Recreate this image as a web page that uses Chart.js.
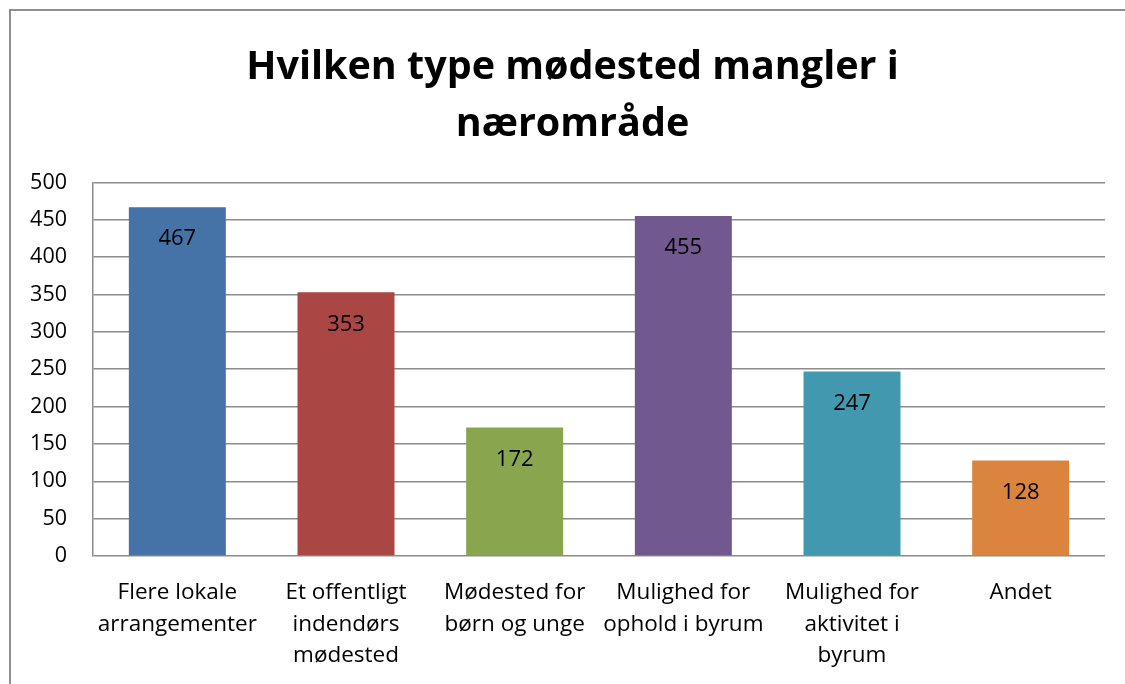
<!DOCTYPE html>
<html>
<head>
<meta charset="utf-8">
<script src="https://cdn.jsdelivr.net/npm/chart.js@4/dist/chart.umd.min.js"></script>
<style>
  html, body { margin: 0; padding: 0; background: #fff; }
  #frame { position: absolute; left: 9px; top: 9px; width: 1200px; height: 800px; border: 2px solid #8f8f8f; box-sizing: border-box; }
  #wrap { position: absolute; left: 0; top: 0; width: 1125px; height: 684px; }
</style>
</head>
<body>
<div id="frame"></div>
<div id="wrap"><canvas id="c" width="1125" height="684"></canvas></div>
<script>
const titleLines = ["Hvilken type mødested mangler i", "nærområde"];
const categories = [
  ["Flere lokale", "arrangementer"],
  ["Et offentligt", "indendørs", "mødested"],
  ["Mødested for", "børn og unge"],
  ["Mulighed for", "ophold i byrum"],
  ["Mulighed for", "aktivitet i", "byrum"],
  ["Andet"]
];
const values = [467, 353, 172, 455, 247, 128];
const barColors = ["#4572A7", "#AA4643", "#89A54E", "#71588F", "#4198AF", "#DB843D"];
const yMin = 0, yMax = 500, yStep = 50;

const FONT = "'Open Sans', sans-serif";

const valueLabels = {
  id: 'valueLabels',
  afterDatasetsDraw(chart) {
    const ctx = chart.ctx;
    const meta = chart.getDatasetMeta(0);
    ctx.save();
    ctx.font = "22px " + FONT;
    ctx.fillStyle = "#000";
    ctx.textAlign = "center";
    ctx.textBaseline = "middle";
    meta.data.forEach((bar, i) => {
      ctx.fillText(String(values[i]), bar.x, bar.y + 32);
    });
    ctx.restore();
  }
};

// Centre the title over the outer frame rather than the canvas box
const titleShift = {
  id: 'titleShift',
  afterLayout(chart) {
    const t = chart.titleBlock;
    if (t) { t.left = 20; t.right = 1125; }
  }
};

new Chart(document.getElementById('c'), {
  type: 'bar',
  data: {
    labels: categories,
    datasets: [{
      data: values,
      backgroundColor: barColors,
      borderWidth: 0,
      categoryPercentage: 1,
      barPercentage: 0.575
    }]
  },
  options: {
    responsive: false,
    animation: false,
    layout: { padding: { left: 0, right: 20, top: 0, bottom: 0 } },
    plugins: {
      legend: { display: false },
      tooltip: { enabled: false },
      title: {
        display: true,
        text: titleLines,
        color: '#000',
        font: { family: FONT, size: 39.5, weight: 'bold', lineHeight: 1.443 },
        padding: { top: 39, bottom: 29.5 }
      }
    },
    scales: {
      x: {
        grid: { display: false, drawTicks: false },
        border: { display: false },
        ticks: {
          color: '#000',
          font: { family: FONT, size: 22.5, lineHeight: 1.4 },
          padding: 21,
          maxRotation: 0,
          autoSkip: false
        },
        afterFit(scale) { scale.height = 128; }
      },
      y: {
        min: yMin, max: yMax,
        grid: { color: '#8c8c8c', lineWidth: 1.5, drawTicks: false },
        border: { display: true, color: '#8c8c8c', width: 1.5 },
        ticks: {
          stepSize: yStep,
          color: '#000',
          font: { family: FONT, size: 21.5 },
          padding: 26
        },
        afterFit(scale) { scale.width = 93; }
      }
    }
  },
  plugins: [valueLabels, titleShift]
});
</script>
</body>
</html>
